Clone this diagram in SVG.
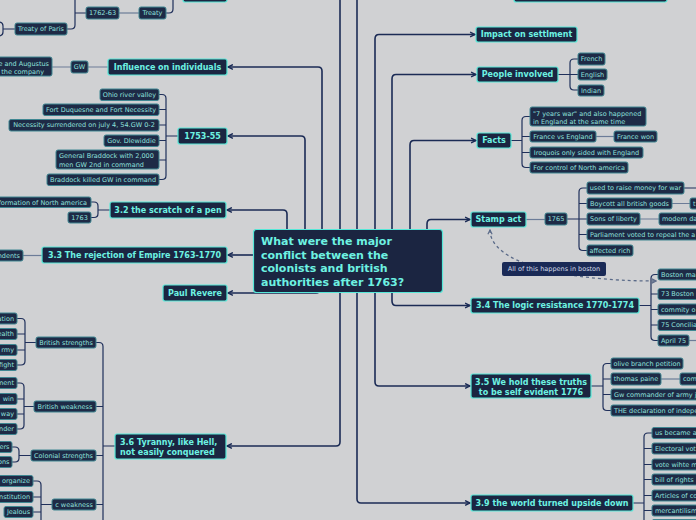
<svg xmlns="http://www.w3.org/2000/svg" width="696" height="520" viewBox="0 0 696 520">
<style>
.m{fill:#1b2541;stroke:#56e8d8;stroke-width:1.2}
.mt{font-family:"DejaVu Sans",Verdana,sans-serif;font-weight:bold;font-size:8px;fill:#6ef2e2}
.ct{font-family:"DejaVu Sans",Verdana,sans-serif;font-weight:bold;font-size:11px;fill:#6ef2e2}
.s{fill:#1e2a46;stroke:#3f8792;stroke-width:1}
.st{font-family:"DejaVu Sans",Verdana,sans-serif;font-size:6.5px;fill:#8fe0dc}
.c{fill:none;stroke:#1b2b55;stroke-width:1.6;stroke-linejoin:round}
.b{fill:none;stroke:#1f2f5a;stroke-width:1.2}
.l{fill:none;stroke:#6c7c98;stroke-width:1.2}
.d{fill:none;stroke:#5a6a88;stroke-width:1.3;stroke-dasharray:3 3}
.lb{fill:#1a2a56}
.lt{font-family:"DejaVu Sans",Verdana,sans-serif;font-size:6.5px;fill:#d3dae8}
</style>
<defs>
<marker id="ar" viewBox="0 0 10 10" refX="9" refY="5" markerWidth="7" markerHeight="7" markerUnits="userSpaceOnUse" orient="auto"><path d="M2,1.5 L9,5 L2,8.5" fill="none" stroke="#1b2b55" stroke-width="2"/></marker>
<marker id="da" viewBox="0 0 10 10" refX="9" refY="5" markerWidth="6" markerHeight="6" markerUnits="userSpaceOnUse" orient="auto-start-reverse"><path d="M2,1.5 L9,5 L2,8.5" fill="none" stroke="#5a6a88" stroke-width="2"/></marker>
</defs>
<rect x="0" y="0" width="696" height="520" fill="#d0d1d3"/>

<g id="connectors">
<path class="c" d="M340,229 V-10"/>
<path class="c" d="M357,229 V-10"/>
<path class="c" marker-end="url(#ar)" d="M322,229 V71 Q322,67 318,67 H228"/>
<path class="c" marker-end="url(#ar)" d="M305,229 V140 Q305,136 301,136 H228"/>
<path class="c" marker-end="url(#ar)" d="M287,229 V214 Q287,210 283,210 H227"/>
<path class="c" marker-end="url(#ar)" d="M254,255 H228"/>
<path class="c" marker-end="url(#ar)" d="M320,270 V289 Q320,293 316,293 H228"/>
<path class="c" marker-end="url(#ar)" d="M340,293 V442 Q340,446 336,446 H227"/>
<path class="c" marker-end="url(#ar)" d="M357,293 V499 Q357,503 361,503 H470"/>
<path class="c" marker-end="url(#ar)" d="M375,293 V382 Q375,386 379,386 H470"/>
<path class="c" marker-end="url(#ar)" d="M392,293 V301 Q392,305.5 396,305.5 H470"/>
<path class="c" marker-end="url(#ar)" d="M375,229 V39 Q375,34.5 379,34.5 H475"/>
<path class="c" marker-end="url(#ar)" d="M392,229 V79 Q392,74.5 396,74.5 H476"/>
<path class="c" marker-end="url(#ar)" d="M410,229 V145 Q410,140.5 414,140.5 H476"/>
<path class="c" marker-end="url(#ar)" d="M427,229 V224 Q427,219.5 431,219.5 H470"/>

<path class="b" d="M86,13 H75 M75,-5 V25 Q75,29 71,29 H67 M166,13 H169 Q173,13 173,9 V-5 M15,29 H3 M-2,22 Q3,22 3,26 V32 Q3,36 -2,36"/>
<path class="l" d="M119,13 H139"/>
<path class="l" d="M108,67 H88 M71,67 H52"/>
<path class="b" d="M178,136 H166 M159,94.5 H162 Q166,94.5 166,98.5 V175.5 Q166,179.5 162,179.5 H159 M166,109.5 H159 M166,125 H159 M166,140.5 H159 M166,160 H159"/>
<path class="b" d="M110,210 H98 M91,202 H94 Q98,202 98,206 V213.5 Q98,217.5 94,217.5 H91"/>
<path class="l" d="M42,255.5 H23"/>
<path class="b" d="M115,446 H103 M96,342.5 H99 Q103,342.5 103,346.5 V525 M103,406.5 H96 M103,455.5 H96 M103,504.5 H96"/>
<path class="b" d="M36,342.5 H25 M17,318.5 H21 Q25,318.5 25,322.5 V361 Q25,365 21,365 H17 M25,334 H17 M25,350 H17"/>
<path class="b" d="M34,406.5 H24 M17,383 H20 Q24,383 24,387 V425 Q24,429 20,429 H17 M24,399 H17 M24,414 H17"/>
<path class="b" d="M31,455.5 H19 M12,447 H15 Q19,447 19,451 V458 Q19,462 15,462 H12"/>
<path class="b" d="M52,504.5 H41 M33,481 H37 Q41,481 41,485 V525 M41,497 H33 M41,512 H33"/>

<path class="b" d="M558,74.5 H570 M578,59 H574 Q570,59 570,63 V86 Q570,90 574,90 H578 M570,74.5 H578"/>
<path class="b" d="M511,140.5 H522 M530,116.5 H526 Q522,116.5 522,120.5 V163.5 Q522,167.5 526,167.5 H530 M522,136.5 H530 M522,152.5 H530"/>
<path class="l" d="M596,136.5 H614"/>
<path class="l" d="M526,219.5 H545"/>
<path class="b" d="M567,219 H579 M587,188 H583 Q579,188 579,192 V246.5 Q579,250.5 583,250.5 H587 M579,203.5 H587 M579,219 H587 M579,234.5 H587 M684,188 H700"/>
<path class="l" d="M672,203.5 H690 M640,219 H659"/>
<path class="b" d="M639,305.5 H651 M658,274.5 H655 Q651,274.5 651,278.5 V336.5 Q651,340.5 655,340.5 H658 M651,294 H658 M651,309.5 H658 M651,325 H658"/>
<path class="l" d="M689,340.5 H700"/>
<path class="b" d="M591,386 H603 M611,363.5 H607 Q603,363.5 603,367.5 V406.5 Q603,410.5 607,410.5 H611 M603,379 H611 M603,394.5 H611"/>
<path class="l" d="M661,379 H680"/>
<path class="b" d="M633,503 H644 M652,433 H648 Q644,433 644,437 V525 M644,448.5 H652 M644,464.5 H652 M644,479.5 H652 M644,495.5 H652 M644,510.5 H652"/>
<path class="d" marker-start="url(#da)" marker-end="url(#da)" d="M490,230 C490,262 560,281 656,281"/>
</g>

<g id="central"><rect class="m" x="253.5" y="229.5" width="189" height="63" rx="3"/>
<text class="ct" x="261" y="245">What were the major</text>
<text class="ct" x="261" y="259">conflict between the</text>
<text class="ct" x="261" y="272">colonists and british</text>
<text class="ct" x="261" y="286">authorities after 1763?</text></g>

<g id="top-left"><rect class="m" x="183" y="-14" width="44" height="16" rx="2"/></g>
<g id="top-right"><rect class="m" x="514" y="-14" width="153" height="16" rx="2"/></g>

<g id="influence"><rect class="m" x="108" y="59" width="119" height="16" rx="2"/><text class="mt" x="167.5" y="69.9" text-anchor="middle">Influence on individuals</text></g>
<g id="n1753"><rect class="m" x="178" y="128" width="49" height="16" rx="2"/><text class="mt" x="202.5" y="138.9" text-anchor="middle">1753-55</text></g>
<g id="n32"><rect class="m" x="110" y="202" width="116" height="16" rx="2"/><text class="mt" x="168" y="212.9" text-anchor="middle">3.2 the scratch of a pen</text></g>
<g id="n33"><rect class="m" x="42" y="247" width="185" height="16" rx="2"/><text class="mt" x="134.5" y="257.9" text-anchor="middle">3.3 The rejection of Empire 1763-1770</text></g>
<g id="paul"><rect class="m" x="163" y="285" width="64" height="16" rx="2"/><text class="mt" x="195" y="295.9" text-anchor="middle">Paul Revere</text></g>
<g id="n36"><rect class="m" x="115" y="434" width="111" height="25" rx="2"/><text class="mt" x="120" y="444.9">3.6 Tyranny, like Hell,</text><text class="mt" x="120" y="454.9">not easily conquered</text></g>

<g id="impact"><rect class="m" x="476" y="27" width="101" height="15" rx="2"/><text class="mt" x="526.5" y="37.4" text-anchor="middle">Impact on settlment</text></g>
<g id="people"><rect class="m" x="477" y="67" width="81" height="15" rx="2"/><text class="mt" x="517.5" y="77.4" text-anchor="middle">People involved</text></g>
<g id="facts"><rect class="m" x="477" y="133" width="34" height="15" rx="2"/><text class="mt" x="494" y="143.4" text-anchor="middle">Facts</text></g>
<g id="stamp"><rect class="m" x="471" y="212" width="55" height="15" rx="2"/><text class="mt" x="498.5" y="222.4" text-anchor="middle">Stamp act</text></g>
<g id="n34"><rect class="m" x="471" y="298" width="168" height="15" rx="2"/><text class="mt" x="555" y="308.4" text-anchor="middle">3.4 The logic resistance 1770-1774</text></g>
<g id="n35"><rect class="m" x="471" y="374" width="120" height="24" rx="2"/><text class="mt" x="531" y="385.2" text-anchor="middle">3.5 We hold these truths</text><text class="mt" x="531" y="395.2" text-anchor="middle">to be self evident 1776</text></g>
<g id="n39"><rect class="m" x="471" y="495" width="162" height="16" rx="2"/><text class="mt" x="552" y="505.9" text-anchor="middle">3.9 the world turned upside down</text></g>

<g id="n1762"><rect class="s" x="86" y="7" width="33" height="12" rx="2"/><text class="st" x="102.5" y="15.3" text-anchor="middle">1762-63</text></g>
<g id="treaty"><rect class="s" x="139" y="7" width="27" height="12" rx="2"/><text class="st" x="152.5" y="15.3" text-anchor="middle">Treaty</text></g>
<g id="paris"><rect class="s" x="15" y="23" width="52" height="12" rx="2"/><text class="st" x="41" y="31.3" text-anchor="middle">Treaty of Paris</text></g>
<g id="augustus"><rect class="s" x="-5" y="57" width="57" height="19" rx="2"/><text class="st" x="49" y="65.6" text-anchor="end">e and Augustus</text><text class="st" x="44" y="74" text-anchor="end">the company</text></g>
<g id="gw"><rect class="s" x="71" y="61" width="17" height="12" rx="2"/><text class="st" x="79.5" y="69.3" text-anchor="middle">GW</text></g>

<g id="ohio"><rect class="s" x="100" y="89" width="59" height="11.5" rx="2"/><text class="st" x="129.5" y="96.8" text-anchor="middle">Ohio river valley</text></g>
<g id="fort"><rect class="s" x="43" y="104" width="116" height="11.5" rx="2"/><text class="st" x="101" y="111.8" text-anchor="middle">Fort Duquesne and Fort Necessity</text></g>
<g id="necessity"><rect class="s" x="9" y="119.5" width="150" height="11.5" rx="2"/><text class="st" x="84" y="127.3" text-anchor="middle">Necessity surrendered on july 4, 54.GW 0-2</text></g>
<g id="gov"><rect class="s" x="104" y="135" width="55" height="11.5" rx="2"/><text class="st" x="131.5" y="142.8" text-anchor="middle">Gov. Dlewiddie</text></g>
<g id="braddock"><rect class="s" x="56" y="150" width="103" height="19" rx="2"/><text class="st" x="59" y="158.3">General Braddock with 2,000</text><text class="st" x="59" y="166.6">men GW 2nd in command</text></g>
<g id="killed"><rect class="s" x="47" y="174" width="112" height="11.5" rx="2"/><text class="st" x="103" y="181.8" text-anchor="middle">Braddock killed GW in command</text></g>

<g id="formation"><rect class="s" x="-5" y="197" width="96" height="10.5" rx="2"/><text class="st" x="87" y="204.5" text-anchor="end">formation of North america</text></g>
<g id="n1763"><rect class="s" x="68" y="212" width="23" height="11" rx="2"/><text class="st" x="79.5" y="219.8" text-anchor="middle">1763</text></g>
<g id="ndents"><rect class="s" x="-5" y="250" width="28" height="11" rx="2"/><text class="st" x="20" y="257.8" text-anchor="end">ndents</text></g>

<g id="bstr"><rect class="s" x="36" y="337" width="60" height="11" rx="2"/><text class="st" x="66" y="344.8" text-anchor="middle">British strengths</text></g>
<g id="bweak"><rect class="s" x="34" y="401" width="62" height="11" rx="2"/><text class="st" x="65" y="408.8" text-anchor="middle">British weakness</text></g>
<g id="cstr"><rect class="s" x="31" y="450" width="65" height="11" rx="2"/><text class="st" x="63.5" y="457.8" text-anchor="middle">Colonial strengths</text></g>
<g id="cweak"><rect class="s" x="52" y="499" width="44" height="11" rx="2"/><text class="st" x="74" y="506.8" text-anchor="middle">c weakness</text></g>
<g id="ation"><rect class="s" x="-5" y="313" width="22" height="11" rx="2"/><text class="st" x="14" y="320.8" text-anchor="end">ation</text></g>
<g id="ealth"><rect class="s" x="-5" y="328.5" width="22" height="11" rx="2"/><text class="st" x="14" y="336.3" text-anchor="end">ealth</text></g>
<g id="rmy"><rect class="s" x="-5" y="344.5" width="22" height="11" rx="2"/><text class="st" x="14" y="352.3" text-anchor="end">rmy</text></g>
<g id="fight"><rect class="s" x="-5" y="359.5" width="22" height="11" rx="2"/><text class="st" x="14" y="367.3" text-anchor="end">fight</text></g>
<g id="ment"><rect class="s" x="-5" y="377.5" width="22" height="11" rx="2"/><text class="st" x="14" y="385.3" text-anchor="end">ment</text></g>
<g id="win"><rect class="s" x="-5" y="393.5" width="22" height="11" rx="2"/><text class="st" x="14" y="401.3" text-anchor="end">win</text></g>
<g id="way"><rect class="s" x="-5" y="408.5" width="22" height="11" rx="2"/><text class="st" x="14" y="416.3" text-anchor="end">way</text></g>
<g id="nder"><rect class="s" x="-5" y="423.5" width="22" height="11" rx="2"/><text class="st" x="14" y="431.3" text-anchor="end">nder</text></g>
<g id="ers"><rect class="s" x="-5" y="441.5" width="17" height="11" rx="2"/><text class="st" x="9.5" y="449.3" text-anchor="end">ers</text></g>
<g id="ons"><rect class="s" x="-5" y="456.5" width="17" height="11" rx="2"/><text class="st" x="9.5" y="464.3" text-anchor="end">ons</text></g>
<g id="organize"><rect class="s" x="-5" y="475.5" width="38" height="11" rx="2"/><text class="st" x="30" y="483.3" text-anchor="end">organize</text></g>
<g id="nstitution"><rect class="s" x="-5" y="491.5" width="38" height="11" rx="2"/><text class="st" x="30" y="499.3" text-anchor="end">nstitution</text></g>
<g id="jealous"><rect class="s" x="4" y="506.5" width="29" height="11" rx="2"/><text class="st" x="18.5" y="514.3" text-anchor="middle">Jealous</text></g>

<g id="french"><rect class="s" x="578" y="53" width="27" height="12" rx="2"/><text class="st" x="591.5" y="61.3" text-anchor="middle">French</text></g>
<g id="english"><rect class="s" x="578" y="69" width="29" height="11" rx="2"/><text class="st" x="592.5" y="76.8" text-anchor="middle">English</text></g>
<g id="indian"><rect class="s" x="578" y="85" width="26" height="11" rx="2"/><text class="st" x="591" y="92.8" text-anchor="middle">Indian</text></g>
<g id="years"><rect class="s" x="530" y="107" width="116" height="19" rx="2"/><text class="st" x="533" y="115.6">"7 years war" and also happened</text><text class="st" x="533" y="123.6">in England at the same time</text></g>
<g id="fve"><rect class="s" x="530" y="131" width="66" height="11" rx="2"/><text class="st" x="563" y="138.8" text-anchor="middle">France vs England</text></g>
<g id="fwon"><rect class="s" x="614" y="131" width="43" height="11" rx="2"/><text class="st" x="635.5" y="138.8" text-anchor="middle">France won</text></g>
<g id="iroquois"><rect class="s" x="530" y="147" width="113" height="11" rx="2"/><text class="st" x="586.5" y="154.8" text-anchor="middle">Iroquois only sided with England</text></g>
<g id="control"><rect class="s" x="530" y="162" width="98" height="11" rx="2"/><text class="st" x="579" y="169.8" text-anchor="middle">For control of North america</text></g>

<g id="n1765"><rect class="s" x="545" y="213" width="22" height="12" rx="2"/><text class="st" x="556" y="221.3" text-anchor="middle">1765</text></g>
<g id="raise"><rect class="s" x="587" y="182" width="97" height="12" rx="2"/><text class="st" x="635.5" y="190.3" text-anchor="middle">used to raise money for war</text></g>
<g id="boycott"><rect class="s" x="587" y="198" width="85" height="11" rx="2"/><text class="st" x="629.5" y="205.8" text-anchor="middle">Boycott all british goods</text></g>
<g id="t"><rect class="s" x="690" y="198" width="20" height="11" rx="2"/><text class="st" x="693" y="205.8">t</text></g>
<g id="sons"><rect class="s" x="587" y="213" width="53" height="12" rx="2"/><text class="st" x="613.5" y="221.3" text-anchor="middle">Sons of liberty</text></g>
<g id="modern"><rect class="s" x="659" y="213" width="50" height="12" rx="2"/><text class="st" x="662" y="221.3">modern da</text></g>
<g id="parliament"><rect class="s" x="587" y="229" width="120" height="11" rx="2"/><text class="st" x="590" y="236.8">Parliament voted to repeal the a</text></g>
<g id="rich"><rect class="s" x="587" y="245" width="46" height="11" rx="2"/><text class="st" x="610" y="252.8" text-anchor="middle">affected rich</text></g>
<g id="label"><rect class="lb" x="502" y="262" width="104" height="14" rx="2"/><text class="lt" x="554" y="271.3" text-anchor="middle">All of this happens in boston</text></g>

<g id="bostonma"><rect class="s" x="658" y="269" width="45" height="11" rx="2"/><text class="st" x="661" y="276.8">Boston ma</text></g>
<g id="b73"><rect class="s" x="658" y="288.5" width="45" height="11" rx="2"/><text class="st" x="661" y="296.3">73 Boston</text></g>
<g id="commity"><rect class="s" x="658" y="304" width="45" height="11" rx="2"/><text class="st" x="661" y="311.8">commity o</text></g>
<g id="concilia"><rect class="s" x="658" y="319.5" width="45" height="11" rx="2"/><text class="st" x="661" y="327.3">75 Concilia</text></g>
<g id="april"><rect class="s" x="658" y="335" width="31" height="11" rx="2"/><text class="st" x="673.5" y="342.8" text-anchor="middle">April 75</text></g>

<g id="olive"><rect class="s" x="611" y="358" width="72" height="11" rx="2"/><text class="st" x="647" y="365.8" text-anchor="middle">olive branch petition</text></g>
<g id="paine"><rect class="s" x="611" y="373" width="50" height="12" rx="2"/><text class="st" x="636" y="381.3" text-anchor="middle">thomas paine</text></g>
<g id="com"><rect class="s" x="680" y="373" width="30" height="12" rx="2"/><text class="st" x="683" y="381.3">com</text></g>
<g id="gwcmd"><rect class="s" x="611" y="389" width="100" height="11" rx="2"/><text class="st" x="614" y="396.8">Gw commander of army j</text></g>
<g id="decl"><rect class="s" x="611" y="405" width="100" height="11" rx="2"/><text class="st" x="614" y="412.8">THE declaration of indepe</text></g>

<g id="usbec"><rect class="s" x="652" y="427.5" width="50" height="11" rx="2"/><text class="st" x="655" y="435.3">us became a</text></g>
<g id="elect"><rect class="s" x="652" y="443" width="50" height="11" rx="2"/><text class="st" x="655" y="450.8">Electoral vot</text></g>
<g id="vote"><rect class="s" x="652" y="459" width="50" height="11" rx="2"/><text class="st" x="655" y="466.8">vote wihte m</text></g>
<g id="bill"><rect class="s" x="652" y="474" width="50" height="11" rx="2"/><text class="st" x="655" y="481.8">bill of rights</text></g>
<g id="articles"><rect class="s" x="652" y="490" width="50" height="11" rx="2"/><text class="st" x="655" y="497.8">Articles of co</text></g>
<g id="merc"><rect class="s" x="652" y="505" width="50" height="11" rx="2"/><text class="st" x="655" y="512.8">mercantilism</text></g>
<g id="next"><rect class="s" x="652" y="519.5" width="50" height="11" rx="2"/></g>
</svg>
